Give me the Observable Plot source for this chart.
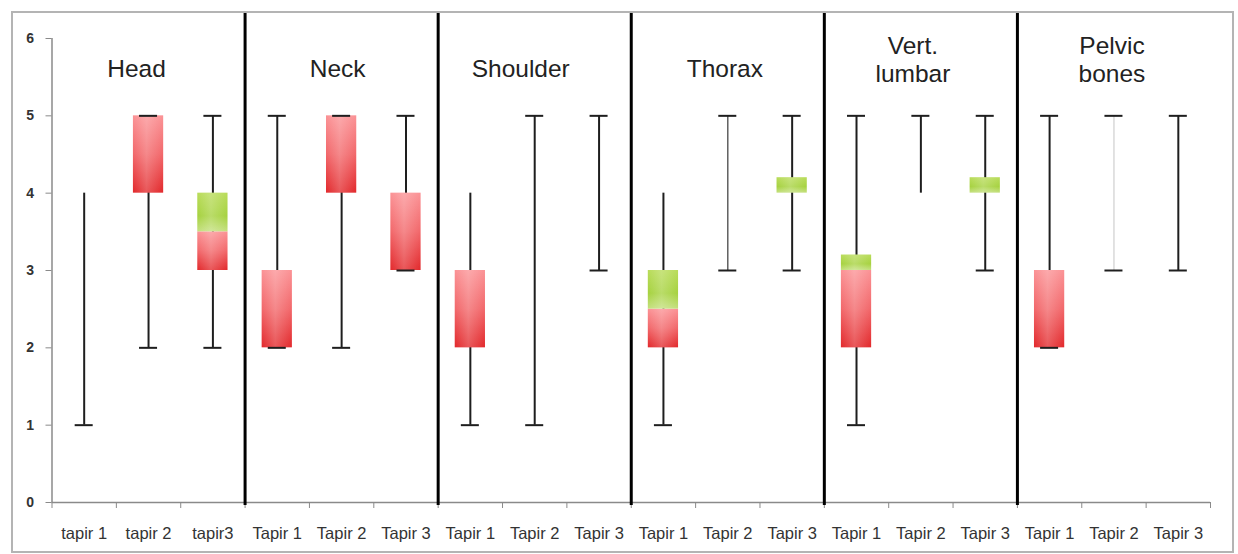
<!DOCTYPE html>
<html><head><meta charset="utf-8">
<script src="https://cdn.jsdelivr.net/npm/d3@7"></script>
<script src="https://cdn.jsdelivr.net/npm/@observablehq/plot@0.6"></script>
<style>
html,body{margin:0;padding:0;background:#fff;}
#chart{position:relative;width:1238px;height:554px;}
#border{position:absolute;left:11px;top:11px;width:1219px;height:538px;border:2px solid #b4b4b4;pointer-events:none;}
</style></head><body><div id="chart"><div id="border"></div></div>
<script>
// ---- data ----
const groups = ["Head", "Neck", "Shoulder", "Thorax", "Vert.\nlumbar", "Pelvic\nbones"];
const tickLabels = ["tapir 1","tapir 2","tapir3", "Tapir 1","Tapir 2","Tapir 3", "Tapir 1","Tapir 2","Tapir 3",
                    "Tapir 1","Tapir 2","Tapir 3", "Tapir 1","Tapir 2","Tapir 3", "Tapir 1","Tapir 2","Tapir 3"];
const low    = [1, 2, 2,   2, 2, 3,   1, 1, 3,   1, 3, 3,   1, 4, 3,   2, 3, 3];
const high   = [4, 5, 5,   5, 5, 5,   4, 5, 5,   4, 5, 5,   5, 5, 5,   5, 5, 5];
const q1     = [null, 4, 3,    2, 4, 3,   2, null, null,   2, null, 4,     2, null, 4,     2, null, null];
const median = [null, 5, 3.5,  3, 5, 4,   3, null, null,   2.5, null, 4,   3, null, 4,     3, null, null];
const q3     = [null, 5, 4,    3, 5, 4,   3, null, null,   3, null, 4.2,   3.2, null, 4.2, 3, null, null];
const capLow  = [true,true,true, true,true,true, true,true,true, true,true,true, true,false,true, true,true,true];
const capHigh = [false,true,true, true,true,true, false,true,true, false,true,true, true,true,true, true,true,true];
const yTicks = [0, 1, 2, 3, 4, 5, 6];

// ---- layout (pixels, not data) ----
const titleDx = [-12, -4, -14, -3, -8, -2];

// ---- derived tables ----
const items = tickLabels.map((label, i) => ({
  i, label, low: low[i], high: high[i], q1: q1[i], median: median[i], q3: q3[i]
}));
const boxes = items.filter(d => d.q1 != null);
const redBoxes = boxes.filter(d => d.median > d.q1);
const greenBoxes = boxes.filter(d => d.q3 > d.median);
const caps = [];
items.forEach((d, i) => {
  if (capLow[i]) caps.push({i, v: d.low});
  if (capHigh[i]) caps.push({i, v: d.high});
});
const faint = new Set([16]);
const mid = new Set([10]);
const separators = d3.range(1, groups.length).map(g => g * 3);

const boxHalf = 0.235, capHalf = 0.14;
const cx = d => d.i + 0.5;

function defs() {
  const ns = "http://www.w3.org/2000/svg";
  const g = document.createElementNS(ns, "defs");
  g.innerHTML = `
    <linearGradient id="redGrad" x1="0" y1="0" x2="0" y2="1">
      <stop offset="0" stop-color="#fb9295"/>
      <stop offset="0.5" stop-color="#f2676a"/>
      <stop offset="1" stop-color="#e2282b"/>
    </linearGradient>
    <linearGradient id="greenGrad" x1="0" y1="0" x2="0" y2="1">
      <stop offset="0" stop-color="#b9dc5a"/>
      <stop offset="0.6" stop-color="#a6d23f"/>
      <stop offset="1" stop-color="#c4e07e"/>
    </linearGradient>
    <linearGradient id="shine" x1="0" y1="0" x2="1" y2="0">
      <stop offset="0" stop-color="#ffffff" stop-opacity="0"/>
      <stop offset="0.45" stop-color="#ffffff" stop-opacity="0.22"/>
      <stop offset="1" stop-color="#ffffff" stop-opacity="0"/>
    </linearGradient>
    <filter id="soft" x="-20%" y="-20%" width="140%" height="140%">
      <feGaussianBlur stdDeviation="0.7"/>
    </filter>`;
  return g;
}

const plot = Plot.plot({
  width: 1238,
  height: 554,
  marginLeft: 51.5,
  marginRight: 28,
  marginTop: 38,
  marginBottom: 52,
  style: {background: "transparent", fontFamily: "'Liberation Sans', Arial, sans-serif"},
  x: {domain: [0, 18]},
  y: {domain: [0, 6]},
  marks: [
    defs,
    // axis lines
    Plot.ruleX([0], {y1: 0, y2: 6, stroke: "#8a8a8a", strokeWidth: 1.5}),
    Plot.ruleY([0], {x1: 0, x2: 18, stroke: "#8a8a8a", strokeWidth: 1.5}),
    Plot.axisY({ticks: yTicks, tickSize: 6, tickPadding: 12, fontSize: 14, fontWeight: "bold", stroke: "#8a8a8a", fill: "#333",
                tickFormat: d3.format("d"), label: null}),
    Plot.axisX({ticks: d3.range(19), tickSize: 6, tickFormat: () => "", stroke: "#8a8a8a", label: null}),
    Plot.axisX({ticks: d3.range(18).map(i => i + 0.5), tickSize: 0, tickPadding: 25, fontSize: 16.5, fill: "#333",
                tickFormat: d => tickLabels[Math.floor(d)], label: null}),
    // group separators
    Plot.ruleX(separators, {y1: -0.04, y2: 6.34, stroke: "#000", strokeWidth: 3}),
    // whiskers
    Plot.ruleX(items, {x: cx, y1: "low", y2: "high",
      stroke: d => faint.has(d.i) ? "#cfcfcf" : mid.has(d.i) ? "#555" : "#1e1e1e",
      strokeWidth: d => faint.has(d.i) ? 1.2 : mid.has(d.i) ? 1.4 : 2}),
    // boxes
    Plot.rectY(redBoxes, {x1: d => cx(d) - boxHalf, x2: d => cx(d) + boxHalf, y1: "q1", y2: "median",
      fill: "url(#redGrad)", ariaLabel: "soft-box"}),
    Plot.rectY(greenBoxes, {x1: d => cx(d) - boxHalf, x2: d => cx(d) + boxHalf, y1: "median", y2: "q3",
      fill: "url(#greenGrad)", ariaLabel: "soft-box"}),
    Plot.rectY(boxes, {x1: d => cx(d) - boxHalf, x2: d => cx(d) + boxHalf, y1: "q1", y2: "q3",
      fill: "url(#shine)"}),
    // caps
    Plot.ruleY(caps, {y: "v", x1: d => d.i + 0.5 - capHalf, x2: d => d.i + 0.5 + capHalf, stroke: "#1e1e1e", strokeWidth: 2}),
    // group titles
    ...groups.map((g, i) => Plot.text([g], {x: i * 3 + 1.5, y: g.includes("\n") ? 5.73 : 5.625, text: d => d,
      dx: titleDx[i], fontSize: 24.5, lineHeight: 1.15, fill: "#222"}))
  ]
});
plot.querySelectorAll('g[aria-label="soft-box"]').forEach(g => g.setAttribute("filter", "url(#soft)"));
document.getElementById("chart").prepend(plot);
</script>
</body></html>
